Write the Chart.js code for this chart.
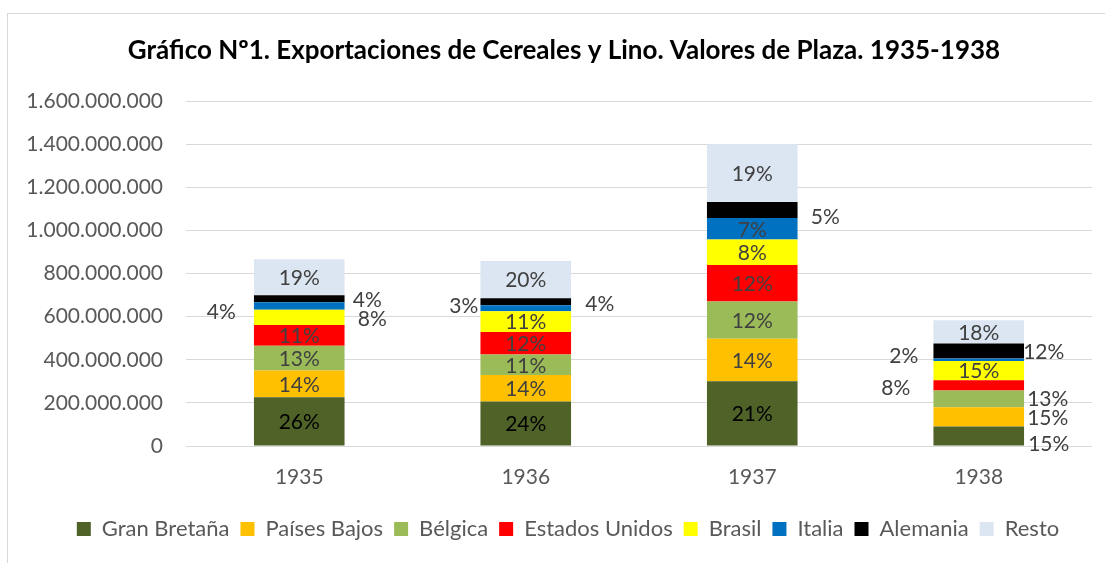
<!DOCTYPE html>
<html>
<head>
<meta charset="utf-8">
<script src="https://cdn.jsdelivr.net/npm/chart.js@4.4.1/dist/chart.umd.min.js"></script>
<style>
    html, body { margin: 0; padding: 0; background: #fff; }
    #wrap { position: relative; width: 1105px; height: 563px; overflow: hidden; }
    #frame { position: absolute; left: 7px; top: 13px; width: 1120px; height: 600px;
             border-left: 1px solid #d9d9d9; border-top: 1px solid #d9d9d9; }
    canvas { position: absolute; left: 0; top: 0; }
</style>
</head>
<body>
<div id="wrap">
    <div id="frame"></div>
    <canvas id="chart" width="1105" height="563"></canvas>
</div>
<script>
// Values in millions of pesos
const years = ['1935', '1936', '1937', '1938'];
const granBretana   = [226, 207, 300, 90];
const paisesBajos   = [124, 122, 198, 90];
const belgica       = [115,  96, 172, 78];
const estadosUnidos = [ 97, 104, 170, 47];
const brasil        = [ 70,  96, 118, 90];
const italia        = [ 35,  28, 100, 11];
const alemania      = [ 32,  33,  74, 70];
const resto         = [168, 173, 268, 107];
const yTicks = [0, 200, 400, 600, 800, 1000, 1200, 1400, 1600];

const series = [
    { label: 'Gran Bretaña',   data: granBretana,   color: '#4F6228' },
    { label: 'Países Bajos',   data: paisesBajos,   color: '#FFC000' },
    { label: 'Bélgica',        data: belgica,       color: '#9BBB59' },
    { label: 'Estados Unidos', data: estadosUnidos, color: '#FF0000' },
    { label: 'Brasil',         data: brasil,        color: '#FFFF00' },
    { label: 'Italia',         data: italia,        color: '#0070C0' },
    { label: 'Alemania',       data: alemania,      color: '#000000' },
    { label: 'Resto',          data: resto,         color: '#DCE6F2' }
];

const totals = years.map((y, j) => series.reduce((s, d) => s + d.data[j], 0));

// labels that were dragged out of their segment [dx, dy] in px
const labelOffsets = {
    '1935': { 'Italia': [-78, 5], 'Alemania': [68, 0], 'Brasil': [73, 1] },
    '1936': { 'Italia': [-62, -3], 'Alemania': [74, 2] },
    '1937': { 'Alemania': [73, 6] },
    '1938': { 'Alemania': [65, 0], 'Bélgica': [69, -1], 'Países Bajos': [69, 0],
              'Gran Bretaña': [70, 7], 'Italia': [-75, -4], 'Estados Unidos': [-83, 2] }
};

const FONT = 'Lato';

function formatNumber(v) {
    return Math.round(v).toString().replace(/\B(?=(\d{3})+(?!\d))/g, '.');
}

const segmentLabels = {
    id: 'segmentLabels',
    afterLayout(chart) {
        // Excel centres title and legend on the whole frame
        chart.titleBlock.left += 8;
        chart.titleBlock.right += 8;
        chart.legend.left += 12;
        chart.legend.right += 12;
    },
    afterDatasetsDraw(chart) {
        const ctx = chart.ctx;
        ctx.save();
        ctx.font = '21px ' + FONT;
        ctx.textAlign = 'center';
        ctx.textBaseline = 'middle';
        chart.data.datasets.forEach((ds, i) => {
            const meta = chart.getDatasetMeta(i);
            meta.data.forEach((bar, j) => {
                const pct = Math.round(series[i].data[j] / totals[j] * 100) + '%';
                const off = (labelOffsets[years[j]] || {})[ds.label];
                ctx.fillStyle = (i === 0 && !off) ? '#000000' : '#404040';
                const o = off || [0, 0];
                ctx.fillText(pct, bar.x + o[0], (bar.y + bar.base) / 2 + o[1] + 1);
            });
        });
        ctx.restore();
    }
};

const ctx = document.getElementById('chart').getContext('2d');
new Chart(ctx, {
    type: 'bar',
    data: {
        labels: years,
        datasets: series.map(s => ({
            label: s.label,
            data: s.data.map(v => v * 1e6),
            backgroundColor: s.color,
            borderWidth: 0,
            categoryPercentage: 1,
            barPercentage: 0.4
        }))
    },
    options: {
        responsive: false,
        animation: false,
        layout: { padding: { top: 13, right: 13, bottom: 13, left: 20 } },
        plugins: {
            title: {
                display: true,
                text: 'Gráfico Nº1. Exportaciones de Cereales y Lino. Valores de Plaza. 1935-1938',
                color: '#000000',
                font: { family: FONT, size: 26, weight: 'bold' },
                padding: { top: 22, bottom: 35 }
            },
            legend: {
                position: 'bottom',
                labels: {
                    boxWidth: 14,
                    boxHeight: 14,
                    padding: 11,
                    color: '#595959',
                    font: { family: FONT, size: 22 }
                }
            },
            tooltip: { enabled: false }
        },
        scales: {
            x: {
                stacked: true,
                grid: { display: false },
                border: { display: false },
                ticks: { color: '#595959', font: { family: FONT, size: 21 }, padding: 11 },
                afterFit(scale) { scale.height = 61; }
            },
            y: {
                stacked: true,
                min: yTicks[0] * 1e6,
                max: yTicks[yTicks.length - 1] * 1e6,
                afterBuildTicks(scale) { scale.ticks = yTicks.map(v => ({ value: v * 1e6 })); },
                ticks: {
                    color: '#595959',
                    font: { family: FONT, size: 21 },
                    padding: 23,
                    callback: v => formatNumber(v)
                },
                grid: { color: '#d9d9d9', drawTicks: false },
                border: { display: false },
                afterFit(scale) { scale.width = 186 - 20; }
            }
        }
    },
    plugins: [segmentLabels]
});
</script>
</body>
</html>
